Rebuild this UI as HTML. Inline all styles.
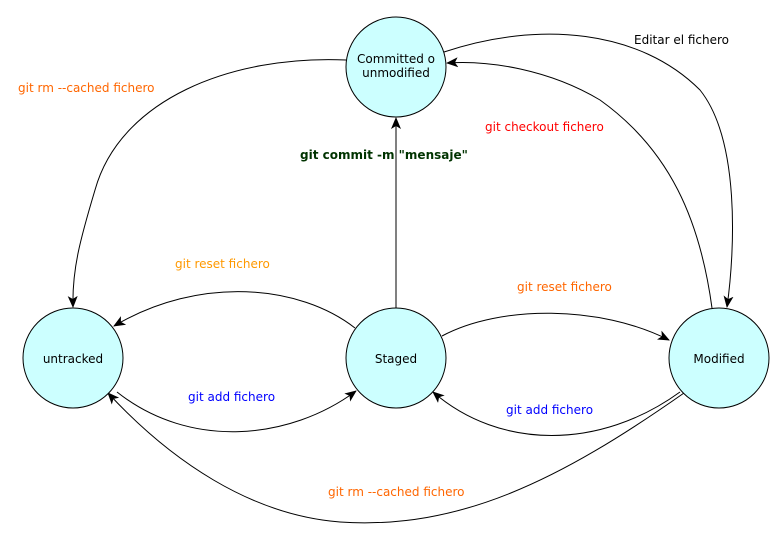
<!DOCTYPE html>
<html><head><meta charset="utf-8"><style>
html,body{margin:0;padding:0;background:#fff;}
svg{display:block;}
text{font-family:"DejaVu Sans","Liberation Sans",sans-serif;font-size:12px;}
</style></head><body>
<svg width="784" height="541" viewBox="0 0 784 541" xmlns="http://www.w3.org/2000/svg">
<defs>
<marker id="a" markerWidth="12" markerHeight="10" refX="11" refY="5" orient="auto" markerUnits="userSpaceOnUse">
<path d="M0,0 L12,5 L0,10 L3,5 Z" fill="#000"/>
</marker>
</defs>
<g fill="none" stroke="#000" stroke-width="1" marker-end="url(#a)">
<path d="M346,60 C230,55 120,100 95,190 C80,240 72,270 73,307"/>
<path d="M444,52 C540,20 640,30 700,90 C740,140 735,250 727,307"/>
<path d="M712,308 C700,220 670,150 600,100 C550,70 490,60 447,63"/>
<path d="M396,308 L396,118"/>
<path d="M355,328 C300,285 200,275 114,326"/>
<path d="M442,336 C500,305 600,305 669,340"/>
<path d="M117,392 C190,450 290,440 356,391"/>
<path d="M680,392 C600,450 500,450 433,392"/>
<path d="M684,393 C560,480 460,530 340,522 C250,515 170,460 108,393"/>
</g>
<g fill="#ccffff" stroke="#000" stroke-width="1">
<circle cx="396" cy="67" r="50"/>
<circle cx="73" cy="358" r="50"/>
<circle cx="396" cy="358" r="50"/>
<circle cx="719" cy="358" r="50"/>
</g>
<g text-anchor="middle" fill="#000">
<text x="396" y="63">Committed o</text>
<text x="396" y="77">unmodified</text>
<text x="73" y="363">untracked</text>
<text x="396" y="363">Staged</text>
<text x="719" y="363">Modified</text>
</g>
<text x="18" y="92" fill="#ff6600">git rm --cached fichero</text>
<text x="634" y="44" fill="#000">Editar el fichero</text>
<text x="485" y="131" fill="#ff0000">git checkout fichero</text>
<text x="300" y="159" fill="#003300" font-weight="bold">git commit -m "mensaje"</text>
<text x="175" y="268" fill="#ff9900">git reset fichero</text>
<text x="517" y="291" fill="#ff6600">git reset fichero</text>
<text x="188" y="401" fill="#0000ff">git add fichero</text>
<text x="506" y="414" fill="#0000ff">git add fichero</text>
<text x="328" y="496" fill="#ff6600">git rm --cached fichero</text>
</svg>
</body></html>
